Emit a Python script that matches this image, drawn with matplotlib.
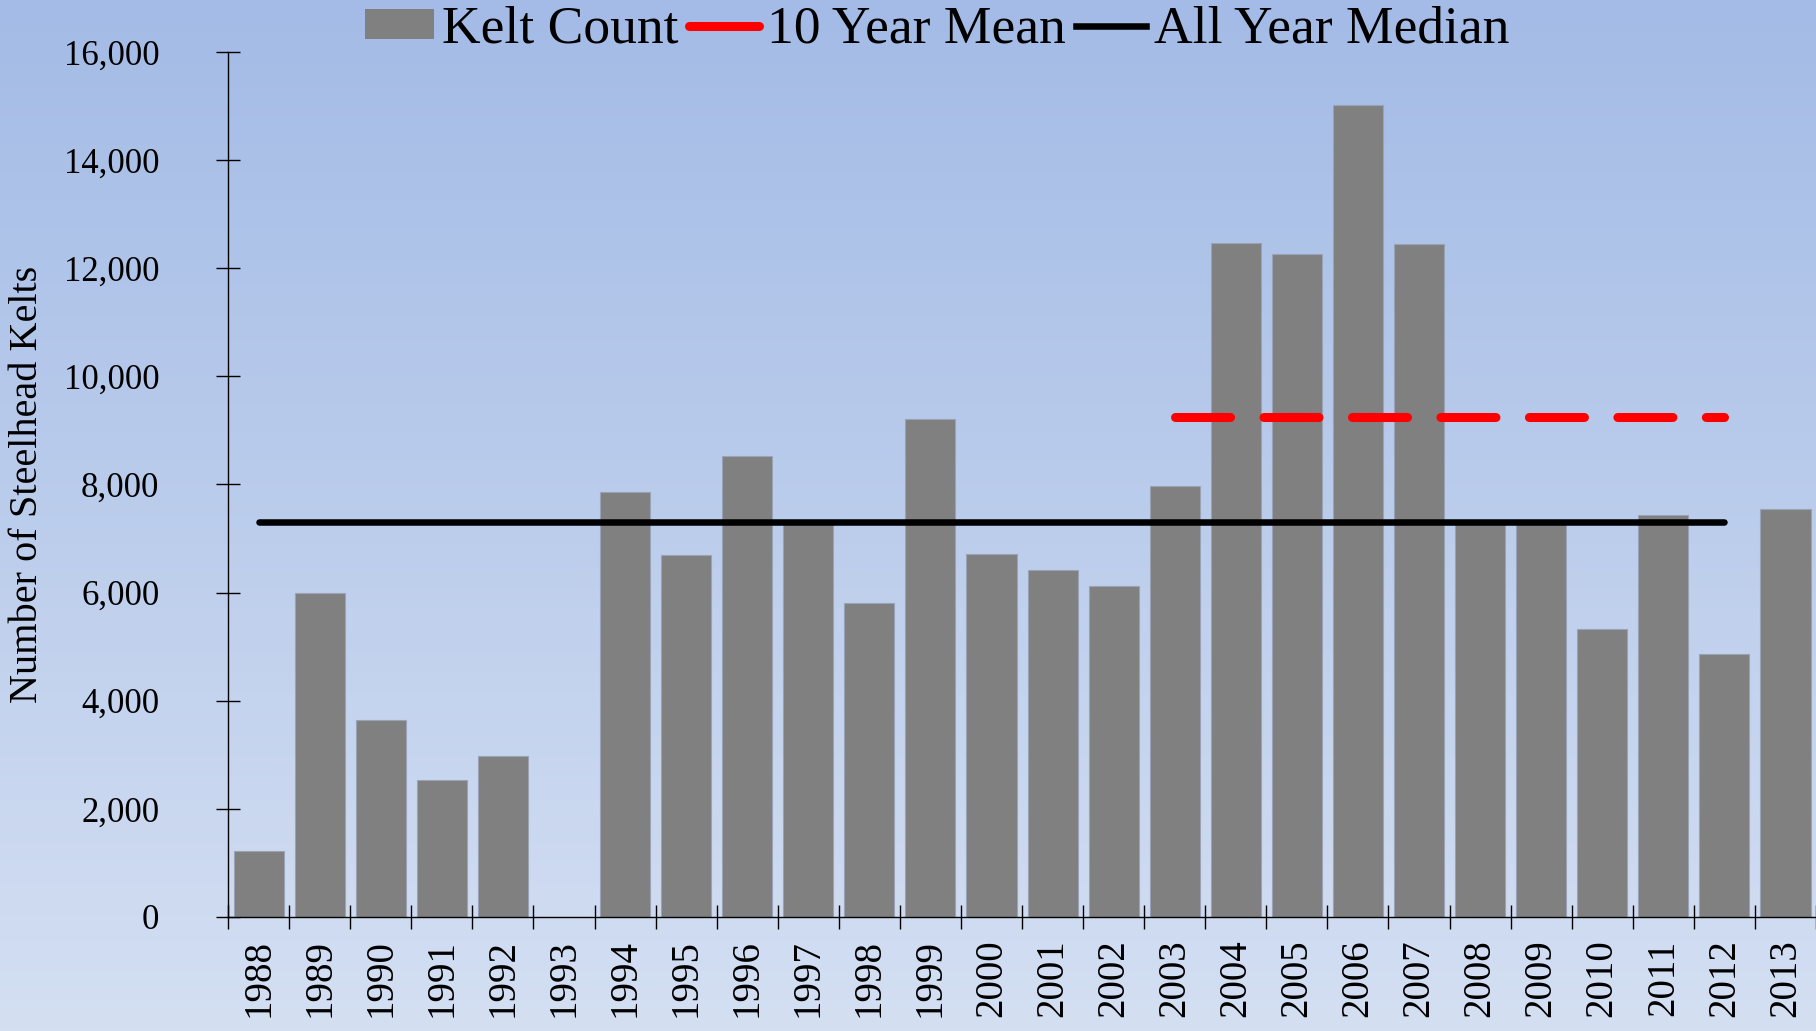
import matplotlib
matplotlib.use("Agg")
import matplotlib.pyplot as plt
import numpy as np
from matplotlib.patches import Patch
from matplotlib.lines import Line2D
from matplotlib.ticker import FuncFormatter

years = [str(y) for y in range(1988, 2014)]
kelt_count = [1220, 6000, 3650, 2530, 2980, 0, 7860, 6700, 8520, 7300,
              5800, 9210, 6720, 6420, 6120, 7970, 12470, 12270, 15010, 12440,
              7300, 7300, 5330, 7430, 4860, 7540]
mean_years = ["2003", "2012"]
mean_value = 9250
median_years = ["1988", "2012"]
median_value = 7300

plt.rcParams['font.family'] = ['Liberation Serif', 'DejaVu Serif']

fig = plt.figure(figsize=(18.16, 10.31), dpi=100)

# gradient background over the whole figure
bg = fig.add_axes([0, 0, 1, 1], zorder=-1)
grad = np.linspace(0, 1, 256).reshape(-1, 1)
top = np.array([163, 187, 230]) / 255
bot = np.array([212, 223, 242]) / 255
img = top[None, None, :] * (1 - grad[:, :, None]) + bot[None, None, :] * grad[:, :, None]
bg.imshow(img, aspect='auto', extent=[0, 1, 0, 1])
bg.axis('off')

ax = fig.add_axes([0.1256, 0.1106, 0.8744, 0.839])
ax.set_facecolor('none')

x = np.arange(len(years))
ax.bar(x, kelt_count, width=0.82, color='#808080', edgecolor='#9aa3b5',
       linewidth=0.8, zorder=2)

mx = [years.index(y) for y in mean_years]
ax.plot(mx, [mean_value, mean_value], color='#ff0000', linewidth=6.5,
        dashes=(6.1, 3.7), dash_capstyle='round', zorder=3)
md = [years.index(y) for y in median_years]
ax.plot(md, [median_value, median_value], color='black', linewidth=4.7,
        solid_capstyle='round', zorder=3)

ax.set_xlim(-0.5, len(years) - 0.5)
ax.set_ylim(0, 16000)
ax.set_yticks(np.arange(0, 16001, 2000))
ax.yaxis.set_major_formatter(FuncFormatter(lambda v, p: f"{int(v):,}"))

ax.set_xticks(x)
ax.set_xticklabels(years, rotation=90, fontsize=28)
ax.set_xticks(np.arange(-0.5, len(years), 1), minor=True)
ax.tick_params(axis='x', which='major', length=0, pad=16)
ax.tick_params(axis='x', which='minor', direction='inout', length=17, width=1)
ax.tick_params(axis='y', direction='inout', length=17, width=1, pad=41, labelsize=25)

for s in ['top', 'right']:
    ax.spines[s].set_visible(False)
ax.spines['left'].set_linewidth(1)
ax.spines['bottom'].set_linewidth(1)

ax.set_ylabel('Number of Steelhead Kelts', fontsize=29)
ax.yaxis.set_label_coords(-0.1146, 0.5)

handles = [Patch(facecolor='#808080', edgecolor='none'),
           Line2D([], [], color='#ff0000', linewidth=6.5, solid_capstyle='round'),
           Line2D([], [], color='black', linewidth=4.7)]
labels = ['Kelt Count', '10 Year Mean', 'All Year Median']
fig.legend(handles, labels, loc='center', bbox_to_anchor=(0.516, 0.971), ncol=3,
           frameon=False, fontsize=38.5, handlelength=1.3, handleheight=0.5,
           handletextpad=0.15, columnspacing=0.2, borderpad=0)

fig.savefig('out.png', dpi=100)
